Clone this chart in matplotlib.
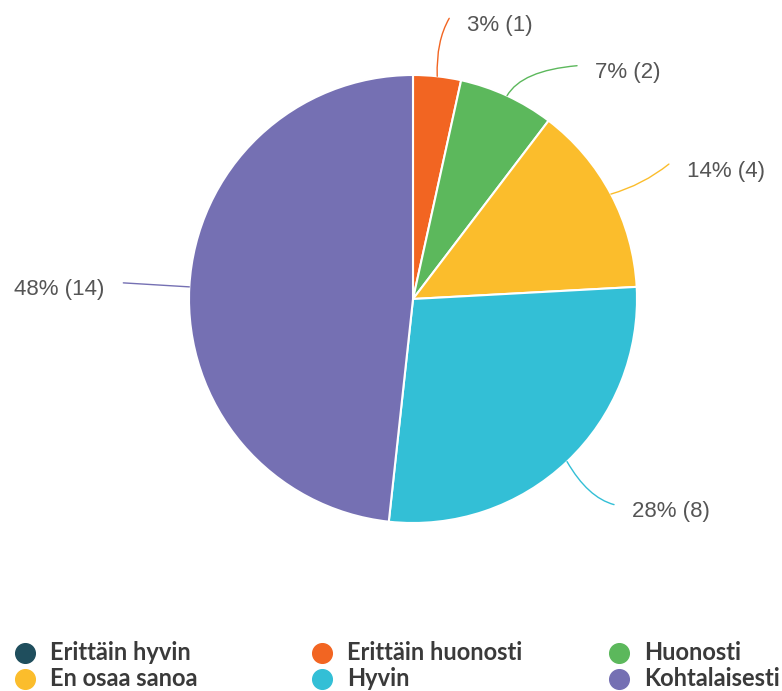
import numpy as np
import matplotlib
matplotlib.use("Agg")
import matplotlib.pyplot as plt

categories = ["Erittäin hyvin", "Erittäin huonosti", "Huonosti",
              "En osaa sanoa", "Hyvin", "Kohtalaisesti"]
counts = [0, 1, 2, 4, 8, 14]
colors = ["#1f4e5d", "#f26522", "#5cb85c", "#fbbd2c", "#33bfd6", "#7570b3"]

# leader line end offsets (px) from wedge edge, and connection style, per slice
label_offsets = {
    "Erittäin huonosti": ((12, -58), "angle3,angleA=60,angleB=92"),
    "Huonosti": ((70, -30), "angle3,angleA=5,angleB=60"),
    "En osaa sanoa": ((58, -30), "arc3,rad=-0.1"),
    "Hyvin": ((47, 43), "angle3,angleA=-15,angleB=-60"),
    "Kohtalaisesti": ((-66, -4), "arc3,rad=0"),
}

W, H = 782, 691
cx, cy, r = 413, 299, 224

fig = plt.figure(figsize=(W / 100, H / 100), dpi=100)
ax = fig.add_axes([0, 0, 1, 1])

# y axis inverted: counterclockwise in data is clockwise on screen
ax.pie(counts, colors=colors, startangle=-90, counterclock=True,
       center=(cx, cy), radius=r, frame=True,
       wedgeprops=dict(edgecolor="white", linewidth=1.5))
ax.set_xlim(0, W)
ax.set_ylim(H, 0)
ax.set_aspect("equal")
ax.axis("off")

total = sum(counts)
cum = np.cumsum(counts)
for name, cnt, end, col in zip(categories, counts, cum, colors):
    if cnt == 0:
        continue
    mid = (end - cnt / 2) / total * 2 * np.pi
    px = cx + r * np.sin(mid)
    py = cy - r * np.cos(mid)
    (dx, dy), style = label_offsets[name]
    ex, ey = px + dx, py + dy
    ax.annotate("", xy=(px, py), xytext=(ex, ey),
                arrowprops=dict(arrowstyle="-", color=col, lw=1.0,
                                connectionstyle=style,
                                shrinkA=0, shrinkB=0))
    pct = round(cnt / total * 100)
    right = dx > 0
    ax.text(ex + (18 if right else -19), ey + 7, f"{pct}% ({cnt})",
            ha="left" if right else "right", va="center",
            fontsize=16, color="#555555", family="Liberation Sans")

# legend, row-major in three columns
for i, (name, col) in enumerate(zip(categories, colors)):
    lx = 25 + (i % 3) * 297
    ly = 653 + (i // 3) * 26
    ax.scatter([lx], [ly], s=200, color=col, zorder=5)
    ax.text(lx + 25, ly, name, ha="left", va="center", fontsize=17,
            fontweight="bold", color="#3a3a3a", family="Lato")

fig.savefig("out.png", dpi=100)
